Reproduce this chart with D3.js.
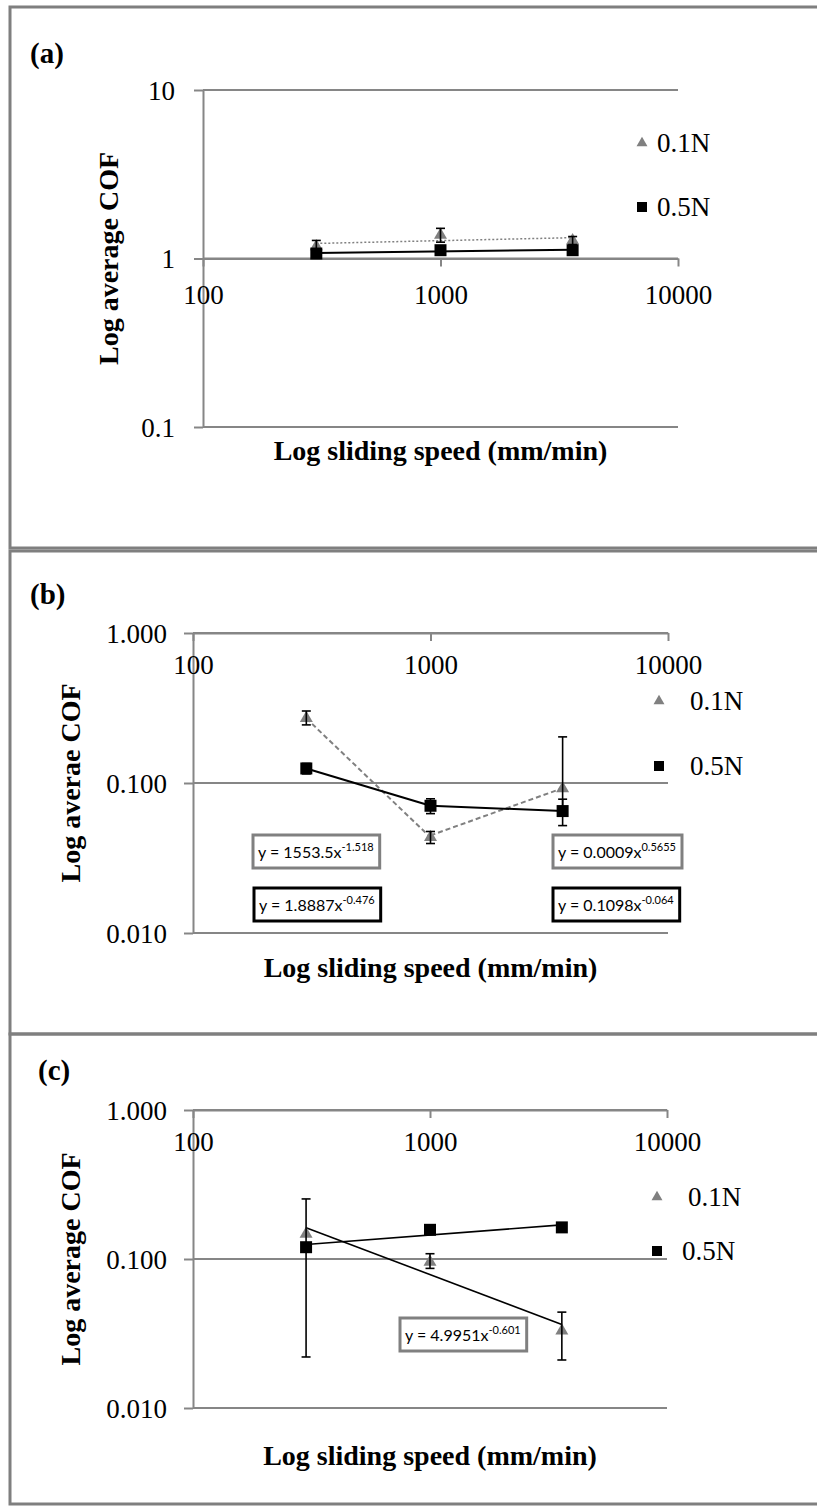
<!DOCTYPE html>
<html>
<head>
<meta charset="utf-8">
<script src="https://cdn.jsdelivr.net/npm/d3@7"></script>
<style>
  body { margin: 0; background: #fff; }
  svg text { font-family: "Liberation Serif", "Times New Roman", serif; fill: #000; }
  .eq text { font-family: Lato, "Liberation Sans", sans-serif; }
</style>
</head>
<body>
<svg id="chart" width="817" height="1506"></svg>
<script>
// sliding speeds (mm/min) and axis ticks
const speeds = [300, 1000, 3600];
const xTicks = [100, 1000, 10000];

// (a) average COF
const aLow = [1.18, 1.38, 1.28];        // 0.1N
const aLowErr = [0.10, 0.13, 0.07];
const aHigh = [1.07, 1.12, 1.12];       // 0.5N
const aHighErr = [0.03, 0.03, 0.03];
const aYTicks = [0.1, 1, 10];

// (b) average COF
const bLow = [0.270, 0.0435, 0.092];
const bLowErrUp = [0.032, 0.004, 0.111];
const bLowErrDown = [0.026, 0.004, 0.03];
const bHigh = [0.125, 0.0705, 0.065];
const bHighErr = [0.010, 0.008, 0.013];
const bYTicks = [0.01, 0.1, 1];
// piecewise power trendlines, y = coef * x^exp
const bLowCoef = [1553.5, 0.0009];
const bLowExp = [-1.518, 0.5655];
const bHighCoef = [1.8887, 0.1098];
const bHighExp = [-0.476, -0.064];

// (c) average COF
const cLow = [0.147, 0.0955, 0.033];
const cLowErrUp = [0.106, 0.013, 0.011];
const cLowErrDown = [0.125, 0.009, 0.012];
const cHigh = [0.120, 0.157, 0.163];
const cHighErr = [0.005, 0.005, 0.005];
const cYTicks = [0.01, 0.1, 1];
const cLowCoef = [4.9951];
const cLowExp = [-0.601];

const legendNames = ['0.1N', '0.5N'];

const GRAY = '#868686';
const svg = d3.select('#chart');

// log-log least squares (Excel power trendline)
const powerFit = (xs, ys) => {
  const lx = xs.map(Math.log), ly = ys.map(Math.log);
  const mx = d3.mean(lx), my = d3.mean(ly);
  const b = d3.sum(lx, (v, i) => (v - mx) * (ly[i] - my)) / d3.sum(lx, v => (v - mx) ** 2);
  return {coef: Math.exp(my - b * mx), exp: b};
};

const segs = (coefs, exps, bounds) =>
  coefs.map((c, i) => ({coef: c, exp: exps[i], from: bounds[i][0], to: bounds[i][1]}));

const triangle = d3.symbol(d3.symbolTriangle, 73)();
const square = d3.symbol(d3.symbolSquare, 144)();
const legTriangle = d3.symbol(d3.symbolTriangle, 52)();
const legSquare = d3.symbol(d3.symbolSquare, 100)();

const drawPanel = (p) => {
  const g = svg.append('g');

  // frame
  g.append('rect')
    .attr('x', p.frame[0]).attr('y', p.frame[1])
    .attr('width', p.frame[2]).attr('height', p.frame[3])
    .attr('fill', 'none').attr('stroke', '#7f7f7f').attr('stroke-width', 3);

  g.append('text').text(p.tag)
    .attr('x', p.tagPos[0]).attr('y', p.tagPos[1]).attr('dy', '0.35em')
    .attr('font-size', 29).attr('font-weight', 'bold');

  const x = d3.scaleLog().domain([100, 10000]).range([p.x0, p.x1]);
  const y = d3.scaleLog().domain(p.yDomain).range([p.yBot, p.yTop]);

  // horizontal grid
  g.append('g').selectAll('line').data(p.yTicks).join('line')
    .attr('x1', p.x0).attr('x2', p.x1)
    .attr('y1', d => y(d)).attr('y2', d => y(d))
    .attr('stroke', GRAY).attr('stroke-width', 2);

  // y axis
  const ya = g.append('g').attr('transform', `translate(${p.x0},0)`)
    .call(d3.axisLeft(y).tickValues(p.yTicks).tickFormat(p.yFmt)
      .tickSize(9).tickSizeOuter(0).tickPadding(p.yPad));
  ya.attr('font-family', null).attr('font-size', 27);
  ya.selectAll('path, line').attr('stroke', GRAY).attr('stroke-width', 2);
  ya.selectAll('text').attr('dy', '0.35em');

  // x axis
  const xa = g.append('g').attr('transform', `translate(0,${y(p.xAxisAt)})`)
    .call(d3.axisBottom(x).tickValues(xTicks).tickFormat(d3.format('d'))
      .tickSize(8).tickSizeOuter(0));
  xa.attr('font-family', null).attr('font-size', 27);
  xa.selectAll('path, line').attr('stroke', GRAY).attr('stroke-width', 2);
  xa.selectAll('text').attr('y', p.xLabOff).attr('dy', '0.35em');

  // titles
  g.append('text').text(p.yTitle)
    .attr('transform', `translate(${p.yTitleX},${(p.yTop + p.yBot) / 2}) rotate(-90)`)
    .attr('text-anchor', 'middle').attr('dy', '0.35em')
    .attr('font-size', 28).attr('font-weight', 'bold');
  g.append('text').text('Log sliding speed (mm/min)')
    .attr('x', (p.x0 + p.x1) / 2).attr('y', p.xTitleY).attr('dy', '0.35em')
    .attr('text-anchor', 'middle')
    .attr('font-size', 28).attr('font-weight', 'bold');

  // trendlines
  const line = d3.line().x(d => x(d[0])).y(d => y(d[1]));
  p.fits.forEach(f => {
    g.append('path')
      .attr('d', line([f.from, f.to].map(v => [v, f.coef * Math.pow(v, f.exp)])))
      .attr('fill', 'none').attr('stroke', f.color)
      .attr('stroke-width', f.width).attr('stroke-dasharray', f.dash || null);
  });

  // series: markers + error bars
  p.series.forEach(s => {
    const sg = g.append('g');
    sg.selectAll('path.m').data(s.values).join('path').attr('class', 'm')
      .attr('d', s.shape)
      .attr('transform', (d, i) => `translate(${x(speeds[i])},${y(d)})`)
      .attr('fill', s.color);
    const bars = sg.selectAll('g.err').data(s.values).join('g').attr('class', 'err')
      .attr('stroke', '#000').attr('stroke-width', 1.6);
    const lo = (d, i) => y(d - s.errDown[i]);
    const hi = (d, i) => y(d + s.errUp[i]);
    bars.append('line')
      .attr('x1', (d, i) => x(speeds[i])).attr('x2', (d, i) => x(speeds[i]))
      .attr('y1', lo).attr('y2', hi);
    [lo, hi].forEach(fn => {
      bars.append('line')
        .attr('x1', (d, i) => x(speeds[i]) - 4.5).attr('x2', (d, i) => x(speeds[i]) + 4.5)
        .attr('y1', fn).attr('y2', fn);
    });
  });

  // legend
  p.series.forEach((s, i) => {
    const ly = p.legend[1] + i * p.legendGap;
    g.append('path').attr('d', s.legShape)
      .attr('transform', `translate(${p.legend[0]},${ly})`).attr('fill', s.color);
    g.append('text').text(legendNames[i])
      .attr('x', p.legend[0] + p.legendText[i]).attr('y', ly).attr('dy', '0.35em')
      .attr('font-size', 27);
  });

  // equation boxes
  p.eqs.forEach(e => {
    const eg = g.append('g').attr('class', 'eq');
    const rect = eg.append('rect')
      .attr('x', e.x).attr('y', e.y).attr('height', 33)
      .attr('fill', '#fff').attr('stroke', e.color).attr('stroke-width', 3);
    const t = eg.append('text').attr('x', e.x + 5).attr('y', e.y + 23).attr('font-size', 16);
    t.append('tspan').text(`y = ${e.coef}x`);
    t.append('tspan').text(String(e.exp)).attr('font-size', 11).attr('dy', -7);
    rect.attr('width', t.node().getComputedTextLength() + 11);
  });
};

// (a)
const aLowFit = powerFit(speeds, aLow);
const aHighFit = powerFit(speeds, aHigh);
drawPanel({
  tag: '(a)', tagPos: [30, 53],
  frame: [10, 7, 830, 541],
  x0: 203, x1: 678, yTop: 90, yBot: 427,
  yDomain: [0.1, 10], yTicks: aYTicks, yFmt: d3.format('~g'), yPad: 19,
  xAxisAt: 1, xLabOff: 36,
  yTitle: 'Log average COF', yTitleX: 108, xTitleY: 450,
  legend: [642, 143], legendGap: 64, legendText: [15, 15],
  fits: [
    {coef: aLowFit.coef, exp: aLowFit.exp, from: 300, to: 3600, color: '#808080', width: 1.5, dash: '2 2'},
    {coef: aHighFit.coef, exp: aHighFit.exp, from: 300, to: 3600, color: '#000', width: 2}
  ],
  series: [
    {values: aLow, errUp: aLowErr, errDown: aLowErr, shape: triangle, legShape: legTriangle, color: '#808080'},
    {values: aHigh, errUp: aHighErr, errDown: aHighErr, shape: square, legShape: legSquare, color: '#000'}
  ],
  eqs: []
});

// (b)
const bBounds = [[300, 1000], [1000, 3600]];
drawPanel({
  tag: '(b)', tagPos: [30, 594],
  frame: [10, 551, 830, 483],
  x0: 193, x1: 668, yTop: 633, yBot: 933,
  yDomain: [0.01, 1], yTicks: bYTicks, yFmt: d3.format('.3f'), yPad: 17,
  xAxisAt: 1, xLabOff: 32,
  yTitle: 'Log averae COF', yTitleX: 70, xTitleY: 967,
  legend: [659, 701], legendGap: 65, legendText: [31, 31],
  fits: [
    ...segs(bLowCoef, bLowExp, bBounds).map(f => ({...f, color: '#808080', width: 2, dash: '5 3'})),
    ...segs(bHighCoef, bHighExp, bBounds).map(f => ({...f, color: '#000', width: 2}))
  ],
  series: [
    {values: bLow, errUp: bLowErrUp, errDown: bLowErrDown, shape: triangle, legShape: legTriangle, color: '#808080'},
    {values: bHigh, errUp: bHighErr, errDown: bHighErr, shape: square, legShape: legSquare, color: '#000'}
  ],
  eqs: [
    {coef: bLowCoef[0], exp: bLowExp[0], x: 253, y: 835, color: '#808080'},
    {coef: bHighCoef[0], exp: bHighExp[0], x: 254, y: 888, color: '#000'},
    {coef: bLowCoef[1], exp: bLowExp[1], x: 553, y: 835, color: '#808080'},
    {coef: bHighCoef[1], exp: bHighExp[1], x: 553, y: 888, color: '#000'}
  ]
});

// (c)
const cHighFit = powerFit(speeds, cHigh);
drawPanel({
  tag: '(c)', tagPos: [38, 1070],
  frame: [10, 1034, 830, 470],
  x0: 193, x1: 667, yTop: 1110, yBot: 1408,
  yDomain: [0.01, 1], yTicks: cYTicks, yFmt: d3.format('.3f'), yPad: 17,
  xAxisAt: 1, xLabOff: 32,
  yTitle: 'Log average COF', yTitleX: 70, xTitleY: 1455,
  legend: [657, 1197], legendGap: 54, legendText: [31, 25],
  fits: [
    ...segs(cLowCoef, cLowExp, [[300, 3600]]).map(f => ({...f, color: '#000', width: 1.6})),
    {coef: cHighFit.coef, exp: cHighFit.exp, from: 300, to: 3600, color: '#000', width: 1.6}
  ],
  series: [
    {values: cLow, errUp: cLowErrUp, errDown: cLowErrDown, shape: triangle, legShape: legTriangle, color: '#808080'},
    {values: cHigh, errUp: cHighErr, errDown: cHighErr, shape: square, legShape: legSquare, color: '#000'}
  ],
  eqs: [
    {coef: cLowCoef[0], exp: cLowExp[0], x: 400, y: 1318, color: '#808080'}
  ]
});
</script>
</body>
</html>
